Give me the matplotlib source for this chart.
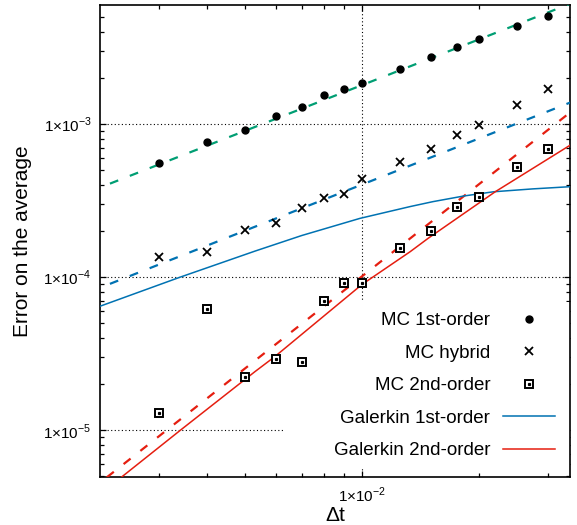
import matplotlib
matplotlib.use("Agg")
import matplotlib.pyplot as plt
from matplotlib.legend_handler import HandlerTuple
from matplotlib.patches import Rectangle
from matplotlib.ticker import FixedLocator, NullFormatter

plt.rcParams["font.family"] = ["Liberation Sans", "DejaVu Sans"]
plt.rcParams["mathtext.fontset"] = "custom"
plt.rcParams["mathtext.rm"] = "Liberation Sans"

# time steps of the Monte Carlo runs
dt = [3e-3, 4e-3, 5e-3, 6e-3, 7e-3, 8e-3, 9e-3, 1e-2,
      1.25e-2, 1.5e-2, 1.75e-2, 2e-2, 2.5e-2, 3e-2]
mc_first = [5.56e-4, 7.63e-4, 9.18e-4, 1.12e-3, 1.30e-3, 1.54e-3, 1.69e-3,
            1.86e-3, 2.29e-3, 2.73e-3, 3.17e-3, 3.59e-3, 4.36e-3, 5.07e-3]
mc_hybrid = [1.35e-4, 1.46e-4, 2.02e-4, 2.25e-4, 2.82e-4, 3.30e-4, 3.49e-4,
             4.38e-4, 5.65e-4, 6.87e-4, 8.44e-4, 9.85e-4, 1.33e-3, 1.69e-3]
mc_second = [1.29e-5, 6.23e-5, 2.23e-5, 2.92e-5, 2.81e-5, 7.02e-5, 9.15e-5,
             9.2e-5, 1.54e-4, 2.01e-4, 2.87e-4, 3.34e-4, 5.22e-4, 6.87e-4]

# fitted power laws (end points)
fit_dt = [2e-3, 4e-2]
fit_first = [3.63e-4, 7.1e-3]
fit_hybrid = [8.04e-5, 1.61e-3]
fit_second = [4.05e-6, 1.62e-3]

# Galerkin curves
gal1_dt = [2.1e-3, 3.40e-3, 5.31e-3, 7.0e-3, 9.88e-3, 1.33e-2, 1.52e-2,
           1.83e-2, 2.18e-2, 2.75e-2, 3.45e-2]
gal1_err = [6.4e-5, 9.98e-5, 1.48e-4, 1.87e-4, 2.42e-4, 2.89e-4, 3.11e-4,
            3.39e-4, 3.61e-4, 3.77e-4, 3.90e-4]
gal2_dt = [2.3e-3, 2.43e-3, 3.42e-3, 5.31e-3, 5.97e-3, 1.0e-2, 1.33e-2,
           1.48e-2, 2.20e-2, 3.49e-2]
gal2_err = [4.5e-6, 5.04e-6, 1.006e-5, 2.42e-5, 3.03e-5, 8.96e-5, 1.467e-4,
            1.795e-4, 3.61e-4, 7.48e-4]

green = "#009e73"
blue = "#0072b2"
red = "#e51e10"
dash = (0, (4, 5.6))

fig = plt.figure(figsize=(5.77, 5.25), dpi=100)
ax = fig.add_axes([100 / 577, 1 - 477 / 525, 470 / 577, 472 / 525])
ax.set_xscale("log")
ax.set_yscale("log")
ax.set_xlim(2.121e-3, 3.425e-2)
ax.set_ylim(4.96e-6, 5.98e-3)

ax.plot(fit_dt, fit_first, color=green, lw=1.6, ls=dash, zorder=3)
ax.plot(fit_dt, fit_hybrid, color=blue, lw=1.6, ls=dash, zorder=3)
ax.plot(fit_dt, fit_second, color=red, lw=1.6, ls=dash, zorder=3)
g1, = ax.plot(gal1_dt, gal1_err, color=blue, lw=1.1, zorder=3)
g2, = ax.plot(gal2_dt, gal2_err, color=red, lw=1.1, zorder=3)

m1, = ax.plot(dt, mc_first, "o", color="black", ms=5, ls="none", zorder=4)
m2, = ax.plot(dt, mc_hybrid, "x", color="black", ms=6, mew=1.3, ls="none", zorder=4)
m3a, = ax.plot(dt, mc_second, "s", mfc="white", mec="black", ms=6.3, mew=1.4,
               ls="none", zorder=4)
m3b, = ax.plot(dt, mc_second, "s", color="black", ms=1.3, ls="none", zorder=5)

# grid on major ticks, hidden behind the key area
ax.grid(True, which="major", color="black", lw=0.8, ls=(0, (1, 2.2)), zorder=0)
ax.set_axisbelow(True)
ax.add_patch(Rectangle((0.389, 0.019), 0.611, 0.352, transform=ax.transAxes,
                       facecolor="white", edgecolor="none", zorder=1))

ax.xaxis.set_major_locator(FixedLocator([1e-2]))
ax.xaxis.set_minor_locator(FixedLocator([3e-3, 4e-3, 5e-3, 6e-3, 7e-3, 8e-3,
                                         9e-3, 2e-2, 3e-2]))
ax.xaxis.set_minor_formatter(NullFormatter())
ax.set_xticks([1e-2], ["1×10$^{-2}$"])
ax.set_yticks([1e-5, 1e-4, 1e-3], ["1×10$^{-5}$", "1×10$^{-4}$", "1×10$^{-3}$"])
ax.yaxis.set_minor_formatter(NullFormatter())
ax.tick_params(which="both", direction="in", top=True, right=True, width=0.9)
ax.tick_params(which="major", length=4.5, labelsize=11, pad=6)
ax.tick_params(which="minor", length=2.8)
for s in ax.spines.values():
    s.set_linewidth(1.2)

ax.set_xlabel("Δt", fontsize=15, labelpad=1)
ax.set_ylabel("Error on the average", fontsize=15, labelpad=8)

leg = ax.legend([m1, m2, (m3a, m3b), g1, g2],
                ["MC 1st-order", "MC hybrid", "MC 2nd-order",
                 "Galerkin 1st-order", "Galerkin 2nd-order"],
                handler_map={tuple: HandlerTuple(ndivide=1)},
                loc="lower right", bbox_to_anchor=(1.0, 0.006),
                markerfirst=False, frameon=False, fontsize=13.5,
                handlelength=2.8, handletextpad=0.65, labelspacing=0.82,
                borderpad=0.3)
leg.set_zorder(6)

fig.savefig("out.png", dpi=100)
